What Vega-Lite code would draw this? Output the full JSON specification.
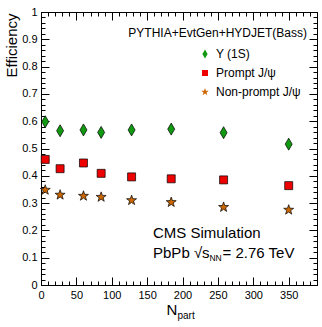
{
  "$schema": "https://vega.github.io/schema/vega-lite/v6.json",
  "autosize": "none",
  "width": 276,
  "height": 273,
  "padding": {"left": 41, "top": 12, "right": 5, "bottom": 42},
  "background": "white",
  "config": {
    "view": {"stroke": "black", "strokeWidth": 1},
    "axis": {"grid": false, "domain": false, "tickColor": "black", "tickWidth": 1, "labelColor": "black", "titleColor": "black", "labelFont": "Liberation Sans", "titleFont": "Liberation Sans", "titleFontWeight": "normal", "labelFontSize": 11, "labelOverlap": false},
    "legend": {"labelFont": "Liberation Sans", "labelColor": "black"}
  },
  "resolve": {"axis": {"x": "independent", "y": "independent"}},
  "data": {"values": [
    {"npart": 6, "eff": 0.598, "type": "Υ (1S)"},
    {"npart": 27, "eff": 0.565, "type": "Υ (1S)"},
    {"npart": 60, "eff": 0.568, "type": "Υ (1S)"},
    {"npart": 85, "eff": 0.559, "type": "Υ (1S)"},
    {"npart": 128, "eff": 0.568, "type": "Υ (1S)"},
    {"npart": 184, "eff": 0.571, "type": "Υ (1S)"},
    {"npart": 258, "eff": 0.558, "type": "Υ (1S)"},
    {"npart": 350, "eff": 0.516, "type": "Υ (1S)"},
    {"npart": 6, "eff": 0.46, "type": "Prompt J/ψ"},
    {"npart": 27, "eff": 0.426, "type": "Prompt J/ψ"},
    {"npart": 60, "eff": 0.447, "type": "Prompt J/ψ"},
    {"npart": 85, "eff": 0.409, "type": "Prompt J/ψ"},
    {"npart": 128, "eff": 0.396, "type": "Prompt J/ψ"},
    {"npart": 184, "eff": 0.389, "type": "Prompt J/ψ"},
    {"npart": 258, "eff": 0.385, "type": "Prompt J/ψ"},
    {"npart": 350, "eff": 0.364, "type": "Prompt J/ψ"},
    {"npart": 6, "eff": 0.348, "type": "Non-prompt J/ψ"},
    {"npart": 27, "eff": 0.330, "type": "Non-prompt J/ψ"},
    {"npart": 60, "eff": 0.326, "type": "Non-prompt J/ψ"},
    {"npart": 85, "eff": 0.322, "type": "Non-prompt J/ψ"},
    {"npart": 128, "eff": 0.310, "type": "Non-prompt J/ψ"},
    {"npart": 184, "eff": 0.303, "type": "Non-prompt J/ψ"},
    {"npart": 258, "eff": 0.285, "type": "Non-prompt J/ψ"},
    {"npart": 350, "eff": 0.275, "type": "Non-prompt J/ψ"}
  ]},
  "layer": [
    {
      "mark": {"type": "point", "filled": true, "opacity": 1, "stroke": "black", "strokeWidth": 0.7, "size": 100},
      "encoding": {
        "x": {"field": "npart", "type": "quantitative", "scale": {"domain": [0, 390], "nice": false, "zero": false},
          "axis": {"orient": "bottom", "ticks": false, "values": [0, 50, 100, 150, 200, 250, 300, 350], "format": "d", "labelPadding": 4, "labelFlush": false,
            "title": "N", "titleX": 125, "titleY": 29, "titleAlign": "left", "titleBaseline": "alphabetic", "titleFontSize": 15}},
        "y": {"field": "eff", "type": "quantitative", "scale": {"domain": [0, 1], "nice": false},
          "axis": {"orient": "left", "ticks": false, "values": [0, 0.1, 0.2, 0.3, 0.4, 0.5, 0.6, 0.7, 0.8, 0.9, 1], "format": ".1~f", "labelPadding": 4,
            "title": "Efficiency", "titleAngle": 270, "titleAlign": "right", "titleBaseline": "alphabetic", "titleX": -25, "titleY": 1, "titleFontSize": 15}},
        "color": {"field": "type", "type": "nominal",
          "scale": {"domain": ["Υ (1S)", "Prompt J/ψ", "Non-prompt J/ψ"], "range": ["#119911", "#ee0000", "#cc6600"]},
          "legend": {"title": null, "orient": "none", "legendX": 158, "legendY": 36, "padding": 0, "symbolSize": 56, "symbolStrokeWidth": 0, "labelFontSize": 12, "rowPadding": 7, "labelOffset": 5}},
        "shape": {"field": "type", "type": "nominal",
          "scale": {"domain": ["Υ (1S)", "Prompt J/ψ", "Non-prompt J/ψ"], "range": ["M0,-1.2L0.7,0L0,1.2L-0.7,0Z", "M-0.8,-0.8L0.8,-0.8L0.8,0.8L-0.8,0.8Z", "M0,-1.05L0.247,-0.34L0.999,-0.324L0.399,0.13L0.617,0.849L0,0.42L-0.617,0.849L-0.399,0.13L-0.999,-0.324L-0.247,-0.34Z"]},
          "legend": {"title": null, "orient": "none", "legendX": 158, "legendY": 36, "padding": 0, "symbolSize": 56, "symbolStrokeWidth": 0, "labelFontSize": 12, "rowPadding": 7, "labelOffset": 5}}
      }
    },
    {
      "data": {"values": [{}]},
      "mark": {"type": "text", "font": "Liberation Sans", "fontSize": 15, "align": "left", "baseline": "middle", "color": "black"},
      "encoding": {
        "text": {"value": "CMS Simulation"},
        "x": {"datum": 158.3, "type": "quantitative",
          "axis": {"orient": "bottom", "values": [0, 50, 100, 150, 200, 250, 300, 350], "tickSize": -8, "labels": false,
            "title": "part", "titleX": 136, "titleY": 33, "titleAlign": "left", "titleBaseline": "alphabetic", "titleFontSize": 10}},
        "y": {"datum": 0.19, "type": "quantitative",
          "axis": {"orient": "left", "values": [0, 0.1, 0.2, 0.3, 0.4, 0.5, 0.6, 0.7, 0.8, 0.9, 1], "tickSize": -8, "labels": false, "title": null}}
      }
    },
    {
      "data": {"values": [{}]},
      "mark": {"type": "text", "font": "Liberation Sans", "fontSize": 15, "align": "left", "baseline": "middle", "color": "black"},
      "encoding": {
        "text": {"value": "PbPb √s"},
        "x": {"datum": 158.3, "type": "quantitative",
          "axis": {"orient": "bottom", "values": [0, 10, 20, 30, 40, 50, 60, 70, 80, 90, 100, 110, 120, 130, 140, 150, 160, 170, 180, 190, 200, 210, 220, 230, 240, 250, 260, 270, 280, 290, 300, 310, 320, 330, 340, 350, 360, 370, 380, 390], "tickSize": -4, "labels": false, "title": null}},
        "y": {"datum": 0.117, "type": "quantitative",
          "axis": {"orient": "left", "values": [0, 0.02, 0.04, 0.06, 0.08, 0.1, 0.12, 0.14, 0.16, 0.18, 0.2, 0.22, 0.24, 0.26, 0.28, 0.3, 0.32, 0.34, 0.36, 0.38, 0.4, 0.42, 0.44, 0.46, 0.48, 0.5, 0.52, 0.54, 0.56, 0.58, 0.6, 0.62, 0.64, 0.66, 0.68, 0.7, 0.72, 0.74, 0.76, 0.78, 0.8, 0.82, 0.84, 0.86, 0.88, 0.9, 0.92, 0.94, 0.96, 0.98, 1], "tickSize": -4, "labels": false, "title": null}}
      }
    },
    {
      "data": {"values": [{}]},
      "mark": {"type": "text", "font": "Liberation Sans", "fontSize": 15, "align": "left", "baseline": "middle", "color": "black"},
      "encoding": {
        "text": {"value": "= 2.76 TeV"},
        "x": {"datum": 256.5, "type": "quantitative",
          "axis": {"orient": "top", "values": [0, 50, 100, 150, 200, 250, 300, 350], "tickSize": -8, "labels": false, "title": null}},
        "y": {"datum": 0.117, "type": "quantitative",
          "axis": {"orient": "right", "values": [0, 0.1, 0.2, 0.3, 0.4, 0.5, 0.6, 0.7, 0.8, 0.9, 1], "tickSize": -8, "labels": false, "title": null}}
      }
    },
    {
      "data": {"values": [{}]},
      "mark": {"type": "text", "font": "Liberation Sans", "fontSize": 8.5, "align": "left", "baseline": "middle", "color": "black"},
      "encoding": {
        "text": {"value": "NN"},
        "x": {"datum": 238, "type": "quantitative",
          "axis": {"orient": "top", "values": [0, 10, 20, 30, 40, 50, 60, 70, 80, 90, 100, 110, 120, 130, 140, 150, 160, 170, 180, 190, 200, 210, 220, 230, 240, 250, 260, 270, 280, 290, 300, 310, 320, 330, 340, 350, 360, 370, 380, 390], "tickSize": -4, "labels": false, "title": null}},
        "y": {"datum": 0.1, "type": "quantitative",
          "axis": {"orient": "right", "values": [0, 0.02, 0.04, 0.06, 0.08, 0.1, 0.12, 0.14, 0.16, 0.18, 0.2, 0.22, 0.24, 0.26, 0.28, 0.3, 0.32, 0.34, 0.36, 0.38, 0.4, 0.42, 0.44, 0.46, 0.48, 0.5, 0.52, 0.54, 0.56, 0.58, 0.6, 0.62, 0.64, 0.66, 0.68, 0.7, 0.72, 0.74, 0.76, 0.78, 0.8, 0.82, 0.84, 0.86, 0.88, 0.9, 0.92, 0.94, 0.96, 0.98, 1], "tickSize": -4, "labels": false, "title": null}}
      }
    },
    {
      "data": {"values": [{}]},
      "mark": {"type": "text", "font": "Liberation Sans", "fontSize": 12, "align": "right", "baseline": "middle", "color": "black"},
      "encoding": {
        "text": {"value": "PYTHIA+EvtGen+HYDJET(Bass)"},
        "x": {"datum": 375.9, "type": "quantitative", "axis": null},
        "y": {"datum": 0.923, "type": "quantitative", "axis": null}
      }
    }
  ]
}
